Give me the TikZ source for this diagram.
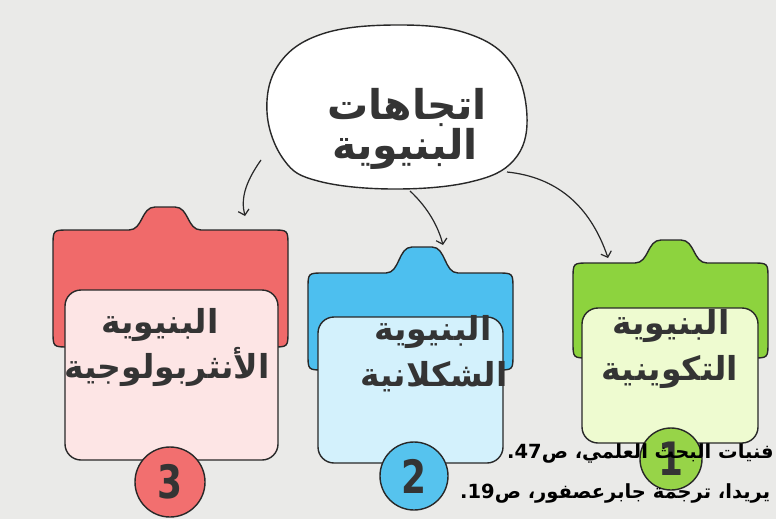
\documentclass[tikz,border=0pt]{standalone}
\usepackage{fontspec}
\usetikzlibrary{arrows.meta}
\TeXXeTstate=1
\newfontfamily\arabicfont[Script=Arabic]{DejaVu Sans}
\newfontfamily\numfont[FakeStretch=0.78]{DejaVu Sans}
\definecolor{paper}{RGB}{234,234,232}
\definecolor{inkc}{RGB}{40,40,40}
\definecolor{txtc}{RGB}{52,52,52}
\definecolor{redout}{RGB}{240,106,106}
\definecolor{redin}{RGB}{253,229,229}
\definecolor{redc}{RGB}{242,111,111}
\definecolor{blueout}{RGB}{77,191,239}
\definecolor{bluein}{RGB}{211,241,252}
\definecolor{bluec}{RGB}{86,195,238}
\definecolor{greenout}{RGB}{141,211,62}
\definecolor{greenin}{RGB}{238,251,208}
\definecolor{greenc}{RGB}{151,212,72}
\tikzset{
  ink/.style={draw=inkc, line width=1.4pt},
  arr/.style={draw=inkc, line width=1.2pt, -{Straight Barb[length=5pt,width=11pt]}},
  innerbox/.style={ink, rounded corners=16pt, inner sep=0pt},
  numcirc/.style={ink, circle, inner sep=0pt, text=txtc, font=\numfont\bfseries\fontsize{46}{46}\selectfont},
  cardtext/.style={text=txtc, inner sep=0pt, font=\arabicfont\bfseries\fontsize{33}{35}\selectfont},
  titletext/.style={text=txtc, inner sep=0pt, font=\arabicfont\bfseries\fontsize{41}{44}\selectfont},
  foot/.style={text=black, inner sep=0pt, font=\arabicfont\bfseries\fontsize{19.5}{21}\selectfont}
}
% #1 left, #2 right, #3 top, #4 bottom, #5 bump centre x, #6 bump top y, #7 fill
\newcommand\tabcard[7]{%
  \draw[ink, fill=#7]
    (#1,{#4-16}) -- (#1,{#3+16}) .. controls (#1,#3) .. ({#1+16},#3)
    -- ({#5-36},#3) .. controls ({#5-22},#3) and ({#5-24},#6) .. ({#5-10},#6)
    -- ({#5+10},#6) .. controls ({#5+24},#6) and ({#5+22},#3) .. ({#5+36},#3)
    -- ({#2-16},#3) .. controls (#2,#3) .. (#2,{#3+16})
    -- (#2,{#4-16}) .. controls (#2,#4) .. ({#2-16},#4)
    -- ({#1+16},#4) .. controls (#1,#4) .. (#1,{#4-16}) -- cycle;}
\begin{document}
\begin{tikzpicture}[x=1pt,y=-1pt]
\useasboundingbox (0,0) rectangle (776,519);
\fill[paper] (0,0) rectangle (776,519);

% central bubble
\draw[ink, fill=white] plot[smooth cycle, tension=0.65] coordinates
  {(267,112) (279,64) (322,34) (395,25) (466,33) (511,63) (527,117) (514,160) (470,182) (392,189) (318,181) (284,160)};
\node[titletext] (t1) at (407,107) {\beginR اتجاهات\endR};
\node[titletext] (t2) at (405,149) {\beginR البنيوية\endR};

% cards
\tabcard{53}{288}{230}{347}{165}{207}{redout}
\tabcard{308}{513}{273}{370}{422}{247}{blueout}
\tabcard{573}{768}{263}{358}{671}{240}{greenout}

\node[innerbox, fill=redin, minimum width=213pt, minimum height=170pt] (rbox) at (171.5,375) {};
\node[innerbox, fill=bluein, minimum width=185pt, minimum height=146pt] (bbox) at (410.5,390) {};
\node[innerbox, fill=greenin, minimum width=176pt, minimum height=135pt] (gbox) at (670,375.5) {};

\node[cardtext] (r1) at (160,325) {\beginR البنيوية\endR};
\node[cardtext] (r2) at (167,367) {\beginR الأنثربولوجية\endR};
\node[cardtext] (b1) at (433,332) {\beginR البنيوية\endR};
\node[cardtext] (b2) at (434,377) {\beginR الشكلانية\endR};
\node[cardtext] (g1) at (671,326) {\beginR البنيوية\endR};
\node[cardtext] (g2) at (670,372) {\beginR التكوينية\endR};

\node[numcirc, fill=redc, minimum size=70pt] (n3) at (170,482) {3};
\node[numcirc, fill=bluec, minimum size=68pt] (n2) at (414,476) {2};
\node[numcirc, fill=greenc, minimum size=62pt] (n1) at (671,459) {1};

% arrows
\coordinate (s1) at (261,160);
\coordinate (e1) at (245,216);
\coordinate (s2) at (410,191);
\coordinate (e2) at (443,245);
\coordinate (s3) at (507,172);
\coordinate (e3) at (608,258);
\draw[arr] (s1) .. controls (244,184) and (241,200) .. (e1);
\draw[arr] (s2) .. controls (424,204) and (437,222) .. (e2);
\draw[arr] (s3) .. controls (556,177) and (590,205) .. (e3);

% footnotes
\node[foot, anchor=west] (f1) at (507,453) {\beginR فنيات البحث العلمي، ص\beginL 47\endL.\endR};
\node[foot, anchor=west] (f2) at (460,493) {\beginR يريدا، ترجمة جابرعصفور، ص\beginL 19\endL.\endR};
\end{tikzpicture}
\end{document}
